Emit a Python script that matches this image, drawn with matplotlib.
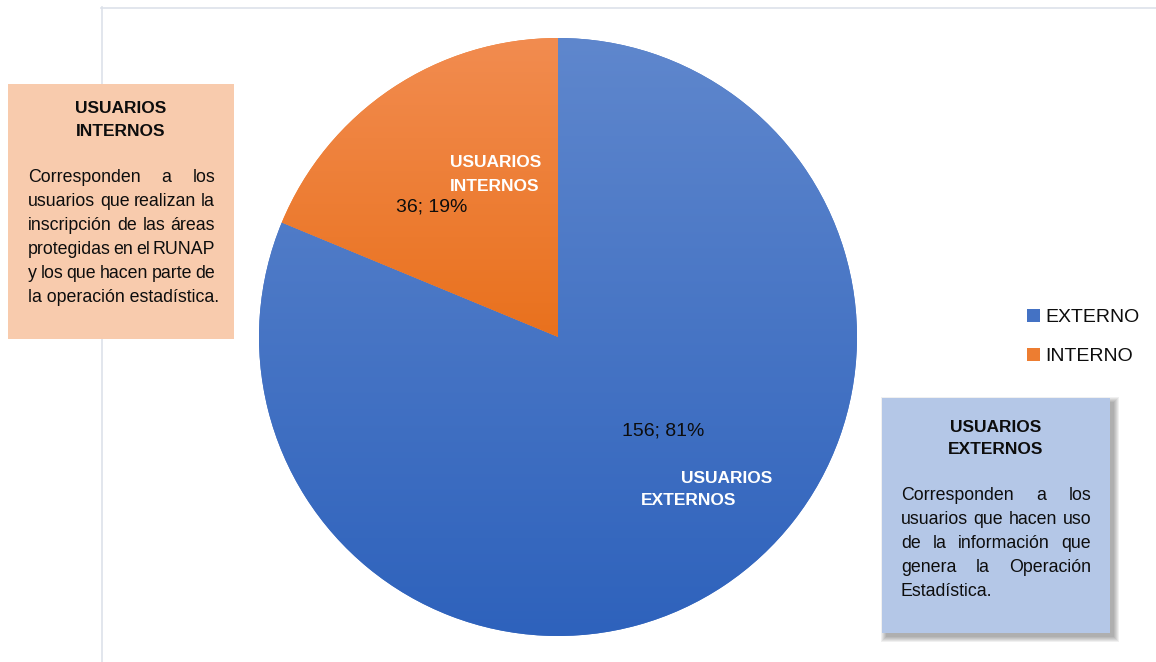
import numpy as np
import matplotlib.pyplot as plt
from matplotlib.patches import Rectangle
from matplotlib.colors import to_rgb

plt.rcParams['font.family'] = ['Liberation Sans', 'DejaVu Sans']

categories = ['EXTERNO', 'INTERNO']
counts = [156, 36]
slice_names = ['USUARIOS\nEXTERNOS', 'USUARIOS\nINTERNOS']

note_int_title = ['USUARIOS', 'INTERNOS']
note_int_lines = ['Corresponden a los', 'usuarios que realizan la',
                  'inscripción de las áreas', 'protegidas en el RUNAP',
                  'y los que hacen parte de', 'la operación estadística.']
note_ext_title = ['USUARIOS', 'EXTERNOS']
note_ext_lines = ['Corresponden a los', 'usuarios que hacen uso',
                  'de la información que', 'genera la Operación',
                  'Estadística.']

W, H = 1156, 662
fig = plt.figure(figsize=(W / 100, H / 100), dpi=100)
ax = fig.add_axes([0, 0, 1, 1])
ax.set_xlim(0, W)
ax.set_ylim(0, H)
ax.axis('off')

TXT = '#0d0d0d'


def Y(py):
    # pixel row (from top) -> data y
    return H - py


# chart frame (only top and left edges visible)
ax.plot([101.5, 101.5], [Y(7), 0], color='#DDE2EA', lw=1.2, zorder=0)
ax.plot([101, W], [Y(7.5), Y(7.5)], color='#DDE2EA', lw=1.2, zorder=0)

cx, cy, r = 558, Y(337), 299
base_cols = ['#4472C4', '#ED7D31']
grad = [('#5F87CD', '#2E62BC'), ('#F28C50', '#E9711D')]

wedges, _ = ax.pie(counts, center=(cx, cy), radius=r, startangle=90,
                   counterclock=False, colors=base_cols, frame=True,
                   wedgeprops=dict(linewidth=0))

# vertical gradient fill on each slice, clipped to the wedge
for w, (top, bot) in zip(wedges, grad):
    x0, x1 = cx - r, cx + r
    y1 = cy + r
    y0 = cy - r if w.theta2 - w.theta1 > 180 else cy
    t = np.linspace(0, 1, 256)[:, None]
    img = (1 - t) * np.array(to_rgb(top)) + t * np.array(to_rgb(bot))
    im = ax.imshow(img[:, None, :], extent=(x0, x1, y0, y1), aspect='auto',
                   interpolation='bicubic', zorder=2)
    im.set_clip_path(w)

ax.set_xlim(0, W)
ax.set_ylim(0, H)
ax.set_aspect('equal')
ax.axis('off')

# data labels
total = sum(counts)
lab_pos = [(663, 435), (432, 212)]
for c, (lx, ly) in zip(counts, lab_pos):
    ax.text(lx, Y(ly), f'{c}; {c / total * 100:.0f}%', fontsize=14,
            ha='center', va='baseline', color=TXT, zorder=5)

name_pos = [[(681, 483), (641, 505)], [(450, 167), (450, 191)]]
for name, pos in zip(slice_names, name_pos):
    for part, (lx, ly) in zip(name.split('\n'), pos):
        ax.text(lx, Y(ly), part, fontsize=12.5, fontweight='bold',
                color='white', ha='left', va='baseline', zorder=5)

# legend
leg = ax.legend(wedges, categories, loc='center left',
                bbox_to_anchor=(1009 / W, Y(337) / H), frameon=False,
                fontsize=14, handlelength=0.67, handleheight=0.67,
                handletextpad=0.3, labelspacing=1.1)
for txt in leg.get_texts():
    txt.set_color(TXT)

renderer = fig.canvas.get_renderer()


def justified(lines, x0, x1, base0, dy, size=12.75):
    for i, line in enumerate(lines):
        y = Y(base0 + i * dy)
        words = line.split()
        if i == len(lines) - 1 or len(words) == 1:
            ax.text(x0, y, line, fontsize=size, ha='left', va='baseline',
                    color=TXT, zorder=6)
            continue
        widths = []
        for wd in words:
            t = ax.text(0, 0, wd, fontsize=size)
            widths.append(t.get_window_extent(renderer).width)
            t.remove()
        gap = (x1 - x0 - sum(widths)) / (len(words) - 1)
        x = x0
        for wd, wdt in zip(words, widths):
            ax.text(x, y, wd, fontsize=size, ha='left', va='baseline',
                    color=TXT, zorder=6)
            x += wdt + gap


# left note (internal users)
bx0, bx1, by0, by1 = 8, 234, 84, 339
ax.add_patch(Rectangle((bx0, Y(by1)), bx1 - bx0, by1 - by0,
                       facecolor='#F8CBAD', edgecolor='none', zorder=4))
for s, b in zip(note_int_title, [113, 136]):
    ax.text((bx0 + bx1) / 2, Y(b), s, fontsize=12.5, fontweight='bold',
            ha='center', va='baseline', color=TXT, zorder=6)
justified(note_int_lines, 28, 215, 182, 24)

# right note (external users) with soft shadow
rx0, rx1, ry0, ry1 = 882, 1110, 398, 633
for k in range(6):
    ax.add_patch(Rectangle((rx0 + 4 - k, Y(ry1 + 4 + k)),
                           rx1 - rx0 + 2 * k, ry1 - ry0 + 2 * k,
                           facecolor='black', alpha=0.06, edgecolor='none',
                           zorder=3))
ax.add_patch(Rectangle((rx0, Y(ry1)), rx1 - rx0, ry1 - ry0,
                       facecolor='#B4C7E7', edgecolor='none', zorder=4))
for s, b in zip(note_ext_title, [432, 454]):
    ax.text((rx0 + rx1) / 2, Y(b), s, fontsize=12.5, fontweight='bold',
            ha='center', va='baseline', color=TXT, zorder=6)
justified(note_ext_lines, 901, 1091, 500, 24)

fig.savefig('out.png', dpi=100)
